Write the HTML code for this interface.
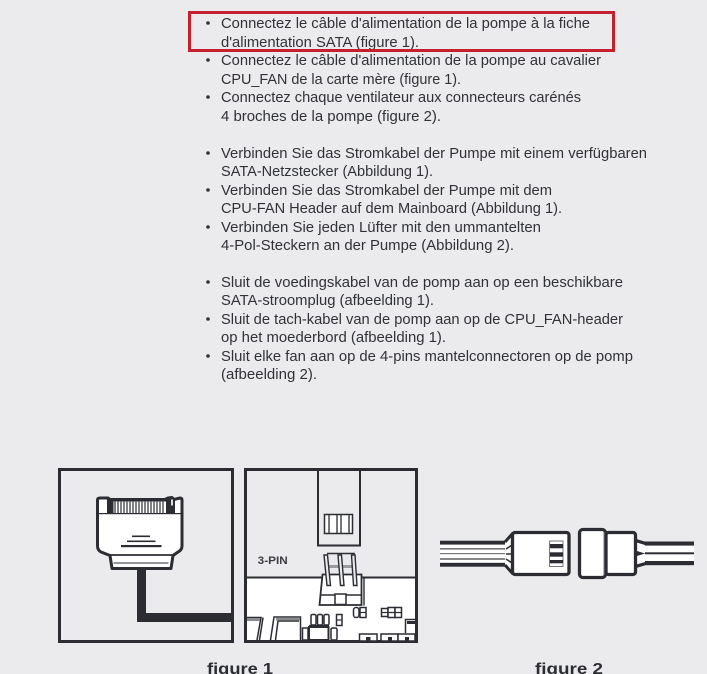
<!DOCTYPE html>
<html><head><meta charset="utf-8"><style>
html,body{margin:0;padding:0;background:#ebebed}
svg{display:block}
.t{font-family:"Liberation Sans",sans-serif;font-size:14.5px;fill:#303237}
.f{font-family:"Liberation Sans",sans-serif;font-size:15.5px;font-weight:bold;fill:#2b2d33}
.d{fill:#2b2d33}
.s{fill:#fff;stroke:#2b2d33;stroke-width:1.5}
</style></head><body>
<svg width="707" height="674" viewBox="0 0 707 674" xmlns="http://www.w3.org/2000/svg">
<rect width="707" height="674" fill="#ebebed"/>
<g class="t">
<text x="221" y="28" textLength="369" lengthAdjust="spacingAndGlyphs">Connectez le câble d'alimentation de la pompe à la fiche</text>
<text x="221" y="47" textLength="198" lengthAdjust="spacingAndGlyphs">d'alimentation SATA (figure 1).</text>
<text x="221" y="65" textLength="380" lengthAdjust="spacingAndGlyphs">Connectez le câble d'alimentation de la pompe au cavalier</text>
<text x="221" y="84" textLength="240" lengthAdjust="spacingAndGlyphs">CPU_FAN de la carte mère (figure 1).</text>
<text x="221" y="102" textLength="360" lengthAdjust="spacingAndGlyphs">Connectez chaque ventilateur aux connecteurs carénés</text>
<text x="221" y="121" textLength="220" lengthAdjust="spacingAndGlyphs">4 broches de la pompe (figure 2).</text>
<text x="221" y="158" textLength="426" lengthAdjust="spacingAndGlyphs">Verbinden Sie das Stromkabel der Pumpe mit einem verfügbaren</text>
<text x="221" y="176" textLength="212" lengthAdjust="spacingAndGlyphs">SATA-Netzstecker (Abbildung 1).</text>
<text x="221" y="195" textLength="331" lengthAdjust="spacingAndGlyphs">Verbinden Sie das Stromkabel der Pumpe mit dem</text>
<text x="221" y="213" textLength="341" lengthAdjust="spacingAndGlyphs">CPU-FAN Header auf dem Mainboard (Abbildung 1).</text>
<text x="221" y="232" textLength="320" lengthAdjust="spacingAndGlyphs">Verbinden Sie jeden Lüfter mit den ummantelten</text>
<text x="221" y="250" textLength="293" lengthAdjust="spacingAndGlyphs">4-Pol-Steckern an der Pumpe (Abbildung 2).</text>
<text x="221" y="287" textLength="402" lengthAdjust="spacingAndGlyphs">Sluit de voedingskabel van de pomp aan op een beschikbare</text>
<text x="221" y="305" textLength="213" lengthAdjust="spacingAndGlyphs">SATA-stroomplug (afbeelding 1).</text>
<text x="221" y="324" textLength="402" lengthAdjust="spacingAndGlyphs">Sluit de tach-kabel van de pomp aan op de CPU_FAN-header</text>
<text x="221" y="342" textLength="225" lengthAdjust="spacingAndGlyphs">op het moederbord (afbeelding 1).</text>
<text x="221" y="361" textLength="412" lengthAdjust="spacingAndGlyphs">Sluit elke fan aan op de 4-pins mantelconnectoren op de pomp</text>
<text x="221" y="379" textLength="96" lengthAdjust="spacingAndGlyphs">(afbeelding 2).</text>
</g>
<g fill="#303237">
<circle cx="208" cy="23" r="1.8"/><circle cx="208" cy="60" r="1.8"/><circle cx="208" cy="97" r="1.8"/>
<circle cx="208" cy="153" r="1.8"/><circle cx="208" cy="190" r="1.8"/><circle cx="208" cy="227" r="1.8"/>
<circle cx="208" cy="282" r="1.8"/><circle cx="208" cy="319" r="1.8"/><circle cx="208" cy="356" r="1.8"/>
</g>
<rect x="189.5" y="12.5" width="424" height="38" fill="none" stroke="#c5202e" stroke-width="3"/>

<!-- figure 1 left -->
<rect x="59.5" y="469.5" width="173" height="172" fill="none" stroke="#2b2d33" stroke-width="3"/>
<rect x="137" y="568" width="9" height="54" class="d"/>
<rect x="137" y="613" width="95" height="9" class="d"/>
<path d="M100 498H108L110 499.5H165L168 498L172 497.5L174 499.5L180 498Q182 498 182 500V546Q182 550 178 552L173 555.5L171 568.5H112L110 555.5L101 552Q97.500 550 97.500 546V500Q97.500 498 100 498Z" fill="#fff" stroke="#2b2d33" stroke-width="3" stroke-linejoin="round"/>
<rect x="107" y="499" width="6.500" height="14.500" class="d"/>
<rect x="113" y="499" width="55" height="2.500" class="d"/>
<rect x="166" y="499" width="9" height="14.500" class="d"/>
<rect x="171" y="499.500" width="2" height="6" fill="#ddd"/>
<rect x="98" y="513" width="84" height="1.200" class="d"/>
<rect x="114" y="501.500" width="52" height="11.500" fill="#fff"/>
<path d="M115 501v12M118 501v12M121 501v12M124 501v12M127 501v12M130 501v12M133 501v12M136 501v12M139 501v12M142 501v12M145 501v12M148 501v12M151 501v12M154 501v12M157 501v12M160 501v12M163 501v12" stroke="#55575c" stroke-width="1.500"/>
<rect x="132" y="535.500" width="18" height="1.600" class="d"/>
<rect x="127" y="540.500" width="28.500" height="1.600" class="d"/>
<rect x="121" y="545" width="40.500" height="2.200" class="d"/>
<path d="M108 555H175" stroke="#2b2d33" stroke-width="1.800"/>
<rect x="113.500" y="562.500" width="55" height="1" class="d"/>

<!-- figure 1 right -->
<rect x="245.500" y="469.500" width="171" height="172" fill="none" stroke="#2b2d33" stroke-width="3"/>
<rect x="247" y="578" width="168" height="62" fill="#fff"/>
<rect x="246" y="576.500" width="170" height="2" class="d"/>
<rect x="318" y="470" width="42" height="75.500" fill="#ebebed" stroke="#2b2d33" stroke-width="2"/>
<rect x="324.500" y="514.500" width="28" height="19" fill="#fff" stroke="#2b2d33" stroke-width="1.500"/>
<path d="M329 514v20M337 514v20M341 514v20M349 514v20" stroke="#2b2d33" stroke-width="1.300"/>
<text x="257.700" y="564" font-family="Liberation Sans,sans-serif" font-size="11" font-weight="bold" fill="#3a3c41" textLength="30" lengthAdjust="spacingAndGlyphs">3-PIN</text>

<path d="M327 565H355V568H327Z" fill="#9a9b9e"/>
<path d="M327 553.500H355M327 575H355" stroke="#2b2d33" stroke-width="1.400" fill="none"/>
<path d="M322.500 574.500H361.500V605H319.500Z" fill="#fff" stroke="#2b2d33" stroke-width="1.800"/>
<path d="M320 595H361.500" stroke="#2b2d33" stroke-width="1.500"/>
<path d="M364 578V605.500" stroke="#2b2d33" stroke-width="1.400"/>
<rect x="335" y="594" width="11" height="10.500" fill="#fff" stroke="#2b2d33" stroke-width="1.500"/>
<g fill="#ebebed" stroke="#2b2d33" stroke-width="1.400">
<path d="M324 555h3.500l3 30.500h-3.500z"/>
<path d="M338 555h3.500l2.500 30.500h-3.500z"/>
<path d="M351.500 555h3.500l2 30.500h-3.500z"/>
</g>
<rect x="353.500" y="607.500" width="5.500" height="10" rx="2.500" class="s"/>
<rect x="360" y="607.500" width="6" height="10" class="s"/>
<path d="M360 612.500h6" stroke="#2b2d33" stroke-width="1.200"/>
<rect x="381.500" y="608.500" width="6.500" height="8" class="s"/><rect x="388" y="607.500" width="7" height="10" class="s"/><rect x="395" y="607.500" width="6.500" height="10" class="s"/>
<path d="M381.500 612.500h20" stroke="#2b2d33" stroke-width="1.200"/>
<rect x="336.500" y="614.500" width="5.500" height="11" class="s"/>
<path d="M336.500 620h5.500" stroke="#2b2d33" stroke-width="1.200"/>
<rect x="311" y="614.500" width="5" height="10.500" rx="1.500" class="s"/><rect x="317.500" y="614.500" width="5" height="10.500" rx="1.500" class="s"/><rect x="324" y="614.500" width="5" height="10.500" rx="1.500" class="s"/>
<path d="M247 617.500H261L257 640M263 617.500L259.500 640" fill="none" stroke="#2b2d33" stroke-width="1.500"/>
<rect x="247" y="618.500" width="13" height="2.500" fill="#8a8b8e"/>
<path d="M270.500 640L274 617H300.500V640M275.500 640L278 621H299" fill="none" stroke="#2b2d33" stroke-width="1.500"/>
<rect x="276" y="618" width="24" height="2.500" fill="#8a8b8e"/>
<rect x="302.500" y="628" width="5.500" height="12" class="s"/>
<path d="M309 625.500H329" stroke="#2b2d33" stroke-width="1.200"/>
<rect x="309" y="627" width="19.500" height="13" fill="#fff" stroke="#2b2d33" stroke-width="2"/>
<rect x="331" y="628" width="6" height="12" rx="1.500" class="s"/>
<rect x="359.500" y="634" width="17.500" height="7" class="s"/><rect x="366" y="637" width="4.500" height="3.500" class="d"/>
<rect x="381" y="634" width="17" height="7" class="s"/><rect x="388" y="637" width="4" height="3.500" class="d"/>
<rect x="398" y="634" width="17" height="7" class="s"/><rect x="405" y="637" width="4" height="3.500" class="d"/>
<path d="M405.500 633V619.500H415" fill="#fff" stroke="#2b2d33" stroke-width="1.500"/>
<rect x="407" y="621" width="8" height="3" class="d"/>

<!-- figure 2 -->
<rect x="440" y="540.700" width="66" height="4" class="d"/>
<rect x="440" y="562.700" width="66" height="4" class="d"/>
<rect x="440" y="544.700" width="66" height="18" fill="#fff"/>
<rect x="440" y="548" width="66" height="1.600" fill="#777"/>
<rect x="440" y="553" width="66" height="1.200" fill="#777"/>
<rect x="440" y="558.300" width="66" height="1.400" fill="#555"/>
<path d="M505 541L513 532V575L505 566Z" fill="#fff"/>
<path d="M505 542L513 533M505 565L513 574" stroke="#2b2d33" stroke-width="3" fill="none"/>
<path d="M506 549L512 545M506 559L512 563M506 554H512" stroke="#2b2d33" stroke-width="1.500" fill="none"/>
<rect x="512.500" y="532.500" width="56.500" height="42" rx="2.500" fill="#fff" stroke="#2b2d33" stroke-width="3.300"/>
<rect x="549.500" y="541" width="13.500" height="25.500" fill="#fff" stroke="#77787c" stroke-width="1"/>
<rect x="550" y="544" width="13" height="4.300" class="d"/>
<rect x="550" y="552.300" width="13" height="4.400" class="d"/>
<rect x="550" y="560" width="13" height="3.300" class="d"/>
<rect x="637" y="541.500" width="57" height="4.200" class="d"/>
<rect x="637" y="561" width="57" height="4.200" class="d"/>
<rect x="637" y="545.700" width="57" height="15.300" fill="#fff"/>
<rect x="637" y="552.300" width="57" height="2" class="d"/>
<path d="M635 542L645 545V562L635 565Z" fill="#fff"/>
<path d="M635 540L645 543M635 567L645 564" stroke="#2b2d33" stroke-width="2.500"/>
<path d="M634 550L645 553.500L634 557Z" class="d"/>
<rect x="579.500" y="529.500" width="26" height="48" rx="3.500" fill="#fff" stroke="#2b2d33" stroke-width="3.300"/>
<rect x="606" y="532.500" width="29.500" height="42" rx="2.500" fill="#fff" stroke="#2b2d33" stroke-width="3.300"/>
<rect x="603.500" y="532" width="1" height="43" fill="#77787c"/>
<rect x="606" y="531" width="1.500" height="45" class="d"/>

<text x="207" y="674" class="f" textLength="66" lengthAdjust="spacingAndGlyphs">figure 1</text>
<text x="535" y="674" class="f" textLength="68" lengthAdjust="spacingAndGlyphs">figure 2</text>
</svg>
</body></html>
